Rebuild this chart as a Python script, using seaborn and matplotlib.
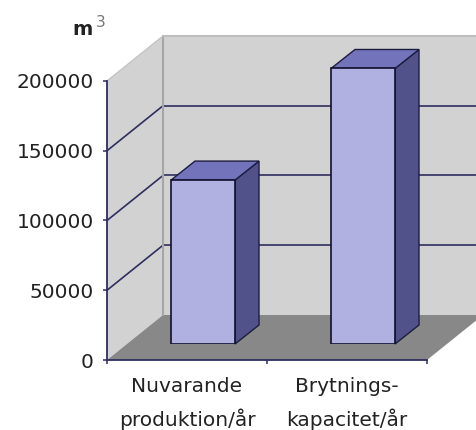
# ==========================================================
# 3D-look bar chart | m3 per year
# ==========================================================

import numpy as np
import pandas as pd
import matplotlib
matplotlib.use("Agg")
import matplotlib.pyplot as plt
import seaborn as sns
from matplotlib.patches import Polygon
from matplotlib.transforms import IdentityTransform

categories = ["Nuvarande\nproduktion/år", "Brytnings-\nkapacitet/år"]
values     = [117500, 197500]
y_ticks    = [0, 50000, 100000, 150000, 200000]

C_WALL  = "#D2D2D2"
C_FLOOR = "#888888"
C_FRONT = "#B1B1E1"
C_TOP   = "#7373BB"
C_SIDE  = "#52528A"
C_LINE  = "#2E2E60"

W, H = 477, 430
WALL_DX, WALL_DY = 56, 45   # wall depth, px
BAR_DX, BAR_DY   = 24, 19   # bar depth, px
SHIFT = 16                  # bars stand this far behind the front edge, px

sns.set_theme(style="white")
plt.rcParams["font.family"] = ["DejaVu Sans"]

fig = plt.figure(figsize=(W / 100, H / 100), dpi=100, facecolor="white")
rect = [107 / W, (H - 360) / H, 320 / W, 279 / H]
ax = fig.add_axes(rect)
ax.set_xlim(-0.5, 1.5)
ax.set_ylim(0, 200000)
ax.patch.set_alpha(0)

# ==========================================================
# walls and floor
# ==========================================================

def px(a, x, y, d=(0, 0)):
    return a.transData.transform((x, y)) + np.array(d)

def face(pts, color, z=1):
    fig.add_artist(Polygon(pts, closed=True, facecolor=color, edgecolor="none",
                           transform=IdentityTransform(), zorder=z))

def seg(p, q, color=C_LINE, lw=1.2, z=2):
    fig.add_artist(plt.Line2D([p[0], q[0]], [p[1], q[1]], color=color, lw=lw,
                              transform=IdentityTransform(), zorder=z))

back = (WALL_DX, WALL_DY)
face([px(ax, -0.5, 0, back), px(ax, 1.5, 0, back),
      px(ax, 1.5, 200000, back), px(ax, -0.5, 200000, back)], C_WALL)
face([px(ax, -0.5, 0), px(ax, -0.5, 0, back),
      px(ax, -0.5, 200000, back), px(ax, -0.5, 200000)], C_WALL)
face([px(ax, -0.5, 0), px(ax, 1.5, 0),
      px(ax, 1.5, 0, back), px(ax, -0.5, 0, back)], C_FLOOR)

for t in y_ticks[1:-1]:
    seg(px(ax, -0.5, t), px(ax, -0.5, t, back))
    seg(px(ax, -0.5, t, back), px(ax, 1.5, t, back))

seg(px(ax, -0.5, 0, back), px(ax, -0.5, 200000, back), color="#A6A6A6", lw=1.5)
seg(px(ax, -0.5, 200000), px(ax, -0.5, 200000, back), color="#C4C4C4", lw=1.0)
seg(px(ax, -0.5, 200000, back), px(ax, 1.5, 200000, back), color="#BEBEBE", lw=1.5)

# ==========================================================
# bars
# ==========================================================

ax_bar = fig.add_axes([(107 + SHIFT) / W, (H - 360 + SHIFT) / H, 320 / W, 279 / H])
ax_bar.set_zorder(5)
ax_bar.patch.set_alpha(0)
df = pd.DataFrame({"kategori": categories, "m3": values})
sns.barplot(data=df, x="kategori", y="m3", ax=ax_bar, width=0.4, color=C_FRONT,
            saturation=1, edgecolor="#101030", linewidth=1.2, zorder=6)
ax_bar.set_xlim(-0.5, 1.5)
ax_bar.set_ylim(0, 200000)
ax_bar.axis("off")

depth = (BAR_DX, BAR_DY)
for bar in ax_bar.patches:
    x0, x1 = bar.get_x(), bar.get_x() + bar.get_width()
    h = bar.get_height()
    side = [px(ax_bar, x1, 0), px(ax_bar, x1, 0, depth),
            px(ax_bar, x1, h, depth), px(ax_bar, x1, h)]
    top = [px(ax_bar, x0, h), px(ax_bar, x1, h),
           px(ax_bar, x1, h, depth), px(ax_bar, x0, h, depth)]
    for pts, col in [(side, C_SIDE), (top, C_TOP)]:
        ax_bar.add_patch(Polygon(pts, closed=True, facecolor=col, edgecolor="#1C1C40",
                                 linewidth=1.0, transform=IdentityTransform(),
                                 clip_on=False, zorder=5))

# ==========================================================
# axes, ticks, text
# ==========================================================

for s in ["top", "right"]:
    ax.spines[s].set_visible(False)
for s in ["left", "bottom"]:
    ax.spines[s].set_color(C_LINE)
    ax.spines[s].set_linewidth(1.3)
ax.set_zorder(3)

ax.set_yticks(y_ticks)
ax.set_yticklabels([str(t) for t in y_ticks], fontsize=14.5, color="#222222")
ax.set_xticks([0, 1])
ax.set_xticklabels(categories, fontsize=14.5, color="#222222", linespacing=1.75)
ax.set_xticks([-0.5, 0.5, 1.5], minor=True)
ax.tick_params(axis="y", left=True, length=3, width=1.1, color=C_LINE, pad=6.5)
ax.tick_params(axis="x", which="major", bottom=False, pad=6)
ax.tick_params(axis="x", which="minor", bottom=True, length=3, width=1.1, color=C_LINE)

fig.text(83 / W, 1 - 35 / H, "m", fontsize=14, fontweight="bold", ha="center",
         va="baseline", color="#222222")
fig.text(101 / W, 1 - 27 / H, "3", fontsize=11, ha="center", va="baseline",
         color="#777777")

fig.savefig("out.png", dpi=100, facecolor="white")
